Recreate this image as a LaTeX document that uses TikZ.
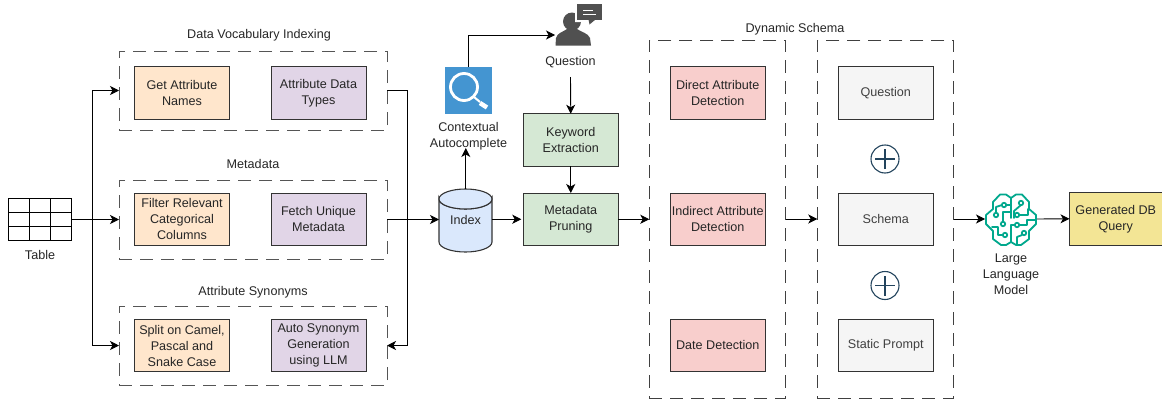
\documentclass[tikz,border=0pt]{standalone}
\usepackage{fontspec}
\setmainfont{Liberation Sans}
\usetikzlibrary{arrows.meta,calc}
\definecolor{orangef}{HTML}{FFE6CC}
\definecolor{purplef}{HTML}{E1D5E7}
\definecolor{greenf}{HTML}{D5E8D4}
\definecolor{redf}{HTML}{F8CECC}
\definecolor{grayf}{HTML}{F5F5F5}
\definecolor{yellowf}{HTML}{F3E595}
\definecolor{bluef}{HTML}{DAE8FC}
\definecolor{edgec}{HTML}{333333}
\definecolor{dashc}{HTML}{555555}
\definecolor{iconb}{HTML}{4495D1}
\definecolor{iconp}{HTML}{505050}
\definecolor{teal1}{HTML}{01A88D}
\definecolor{plusc}{HTML}{23445D}
\tikzset{
 x=1pt,y=1pt,
 every node/.style={font=\fontsize{12.6}{16}\selectfont,align=center,inner sep=0pt,outer sep=0pt,text=black!85},
 container/.style={draw=dashc,line width=1pt,dash pattern=on 13pt off 8pt,minimum width=268pt,minimum height=79pt},
 tall/.style={draw=black!75,line width=1pt,dash pattern=on 13pt off 8pt,minimum width=136.5pt,minimum height=358pt},
 stepbox/.style={draw=edgec,line width=1pt,minimum width=95pt,minimum height=52.5pt},
 orangebox/.style={stepbox,fill=orangef},
 purplebox/.style={stepbox,fill=purplef},
 greenbox/.style={stepbox,fill=greenf},
 redbox/.style={stepbox,fill=redf},
 graybox/.style={stepbox,fill=grayf,text=black!75},
 link/.style={draw=black,line width=0.9pt,-{Stealth[length=9pt,width=9pt,inset=2.5pt]}},
 plusn/.style={draw=plusc,line width=1.1pt,circle,minimum size=28pt},
}
\begin{document}
\begin{tikzpicture}
\useasboundingbox (0,0) rectangle (1162,-399);
% labels
\node (ldv) at (259,-35.3) {Data Vocabulary Indexing};
\node (lmd) at (253,-164.3) {Metadata};
\node (las) at (253,-292.5) {Attribute Synonyms};
\node (lds) at (795,-28.8) {Dynamic Schema};
% containers
\node[container] (c1) at (253,-90.5) {};
\node[container] (c2) at (253,-219.5) {};
\node[container] (c3) at (253,-345.5) {};
\node[tall] (d1) at (717.5,-219) {};
\node[tall] (d2) at (885.5,-219) {};
% boxes
\node[orangebox] (a1) at (182,-93) {Get Attribute\\Names};
\node[purplebox] (b1) at (318.5,-93) {Attribute Data\\Types};
\node[orangebox] (a2) at (182,-219.25) {Filter Relevant\\Categorical\\Columns};
\node[purplebox] (b2) at (318.5,-219.25) {Fetch Unique\\Metadata};
\node[orangebox] (a3) at (182,-345.5) {Split on Camel,\\Pascal and\\Snake Case};
\node[purplebox] (b3) at (318.5,-345.5) {Auto Synonym\\Generation\\using LLM};
\node[greenbox] (kw) at (570.75,-140) {Keyword\\Extraction};
\node[greenbox] (mp) at (570.75,-219.25) {Metadata\\Pruning};
\node[redbox] (r1) at (717.75,-92.75) {Direct Attribute\\Detection};
\node[redbox] (r2) at (717.75,-219.25) {Indirect Attribute\\Detection};
\node[redbox] (r3) at (717.75,-345.25) {Date Detection};
\node[graybox] (g1) at (885.75,-92.75) {\raisebox{-0.7pt}{Question}};
\node[graybox] (g2) at (885.75,-219.25) {Schema};
\node[graybox] (g3) at (885.75,-345.25) {Static Prompt};
\node[stepbox,fill=yellowf,minimum width=92.5pt] (gq) at (1115.75,-218.75) {Generated DB\\Query};
% plus signs
\node[plusn] (p1) at (885,-159) {};
\node[plusn] (p2) at (885,-285.5) {};
\foreach \p in {p1,p2}{
 \draw[plusc,line width=1.1pt] ($(\p)+(-10,0)$) -- ($(\p)+(10,0)$);
 \draw[plusc,line width=1.1pt] ($(\p)+(0,-10)$) -- ($(\p)+(0,10)$);
}
% table
\node[draw=black,line width=0.9pt,minimum width=63pt,minimum height=41.5pt] (tbl) at (40,-219.25) {};
\draw[black,line width=0.9pt] (8.5,-212) -- (71.5,-212) (8.5,-226.5) -- (71.5,-226.5) (29.5,-198.5) -- (29.5,-240) (50.5,-198.5) -- (50.5,-240);
\node (tl) at (40,-254.5) {Table};
% cylinder
\node[minimum width=53pt,minimum height=63pt] (idx) at (465.5,-220.5) {};
\draw[fill=bluef,draw=edgec,line width=1.1pt] (439,-199) arc[start angle=180,end angle=360,x radius=26.5,y radius=10] -- (492,-242) arc[start angle=0,end angle=-180,x radius=26.5,y radius=10] -- cycle;
\draw[fill=bluef,draw=edgec,line width=1.1pt] (439,-199) arc[start angle=180,end angle=0,x radius=26.5,y radius=10] arc[start angle=0,end angle=-180,x radius=26.5,y radius=10];
\node at (465.5,-220) {Index};
% contextual icon
\node[fill=iconb,minimum width=47pt,minimum height=47pt] (ctx) at (468.5,-90.5) {};
\draw[white,line width=2.8pt] (464,-87) circle[radius=13.5];
\draw[white,line width=2pt] (474,-97) -- (480,-102);
\draw[white,line width=4.5pt] (480,-103) -- (487,-107.5);
\node (ctxl) at (468.5,-136) {Contextual\\Autocomplete};
% person icon
\node[minimum width=36pt,minimum height=32pt] (usr) at (573,-30) {};
\fill[iconp] (572,-21.5) circle[radius=9];
\fill[iconp] (555.5,-45.5) -- (556,-38) .. controls (557,-33) and (563,-32) .. (567,-29) -- (577,-29) .. controls (581,-32) and (588,-33) .. (590,-38) -- (591,-45.5) -- cycle;
\fill[white] (575,-2) -- (604,-2) -- (604,-22) -- (596,-22) -- (589,-27) -- (587,-22) -- (575,-22) -- cycle;
\fill[iconp] (577,-3.5) rectangle (601.5,-20);
\fill[iconp] (588.5,-19.5) -- (589.5,-24.5) -- (595.5,-19.5) -- cycle;
\draw[white,line width=0.9pt] (583,-10) -- (593,-10) (583,-14) -- (596,-14);
\node (ql) at (570.5,-62) {Question};
% brain icon
\node[minimum width=52pt,minimum height=52pt] (llm) at (1011,-219) {};
\begin{scope}[draw=teal1,line width=1.8pt,fill=white,line cap=round,line join=round]
 \draw (1011,-198) -- (1006,-194.5) -- (1000,-194.5) -- (993,-202) -- (993,-209) -- (986,-215) -- (986,-224) -- (993,-231) -- (993,-239) -- (1001,-245) -- (1006,-245) -- (1011,-242) -- (1016,-245) -- (1021,-245) -- (1029,-239) -- (1029,-231) -- (1036,-224) -- (1036,-215) -- (1029,-209) -- (1029,-202) -- (1022,-194.5) -- (1016,-194.5) -- cycle;
 \draw (1011,-198) -- (1011,-218);
 \draw (1011,-225) -- (1011,-242);
 \draw (1004,-205) -- (1011,-205);
 \draw (996,-213) -- (996,-207) -- (1002,-205);
 \draw (1003,-222) -- (1003,-212) -- (1011,-212);
 \draw (1003,-235) -- (998,-235) -- (998,-227) -- (992,-227);
 \draw (1021,-205) -- (1014,-211) -- (1014,-218);
 \draw (1019,-215) -- (1028,-215) -- (1028,-209);
 \draw (1015,-225) -- (1011,-225);
 \draw (1019,-225) -- (1027,-225) -- (1027,-220) -- (1036,-220);
 \draw (1022,-235) -- (1017,-237) -- (1017,-245);
 \filldraw (1004,-205) circle[radius=2.2];
 \filldraw (996,-215) circle[radius=2.2];
 \filldraw (1003,-224) circle[radius=2.2];
 \filldraw (1005,-235) circle[radius=2.2];
 \filldraw (1021,-203) circle[radius=2.2];
 \filldraw (1017,-215) circle[radius=2.2];
 \filldraw (1017,-225) circle[radius=2.2];
 \filldraw (1024,-233) circle[radius=2.2];
\end{scope}
\node (ll) at (1011,-274.5) {Large\\Language\\Model};
% connectors
\coordinate (bus) at (92.5,-219.5);
\draw[link] (tbl.east |- c2.west) -- (c2.west);
\draw[link] (bus) |- (c1.west);
\draw[link] (bus) |- (c3.west);
\coordinate (rbus) at (407.5,-90.5);
\draw[link] (c1.east) -| (rbus) |- (c3.east);
\draw[link] (c2.east) -- (idx.west |- c2.east);
\draw[link] (idx.east |- mp.west) -- ([xshift=-2pt]mp.west);
\draw[link] (ctx.north) |- (usr.west |- 0,-35);
\draw[link] (465.8,-189) -- (465.8,-148);
\draw[link] (ql.south |- 0,-77) -- (kw.north);
\draw[link] (kw.south) -- (mp.north);
\draw[link] (mp.east) -- (mp.east -| d1.west);
\draw[link] (d1.east) -- (d2.west);
\draw[link] (d2.east) -- (llm.west);
\draw[link] (llm.east) -- (gq.west);
\end{tikzpicture}
\end{document}
